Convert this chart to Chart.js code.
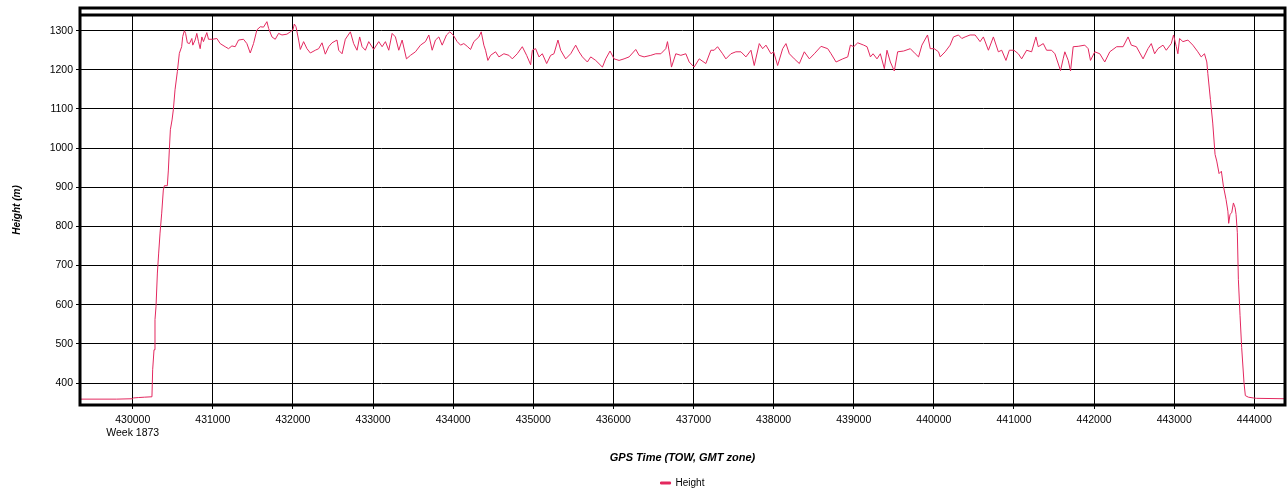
<!DOCTYPE html>
<html>
<head>
<meta charset="utf-8">
<title>Height vs GPS Time</title>
<script src="https://cdn.jsdelivr.net/npm/chart.js@4"></script>
<style>
  html, body { margin: 0; padding: 0; background: #fff; }
</style>
</head>
<body>
<canvas id="heightChart" width="1287" height="493"></canvas>
<script>
// GPS time of week (s) and height (m)
const gpsTimes = [
  429342, 429800, 430000, 430010, 430070, 430150, 430240, 430249, 430266, 430278,
  430291, 430308, 430324, 430341, 430362, 430382, 430395, 430432, 430445, 430457,
  430470, 430491, 430507, 430528, 430557, 430582, 430611, 430624, 430645, 430660,
  430682, 430708, 430738, 430750, 430779, 430800, 430821, 430842, 430863, 430883,
  430925, 430946, 430996, 431050, 431092, 431154, 431196, 431238, 431279, 431321,
  431383, 431425, 431467, 431508, 431550, 431592, 431633, 431675, 431696, 431738,
  431779, 431821, 431863, 431925, 431967, 432000, 432017, 432038, 432071, 432092,
  432133, 432175, 432217, 432279, 432321, 432363, 432404, 432446, 432488, 432550,
  432571, 432613, 432654, 432717, 432758, 432800, 432833, 432863, 432904, 432946,
  433008, 433071, 433113, 433154, 433196, 433238, 433279, 433321, 433363, 433417,
  433467, 433529, 433592, 433654, 433696, 433738, 433779, 433821, 433863, 433917,
  433958, 434000, 434050, 434092, 434133, 434175, 434217, 434258, 434321, 434350,
  434383, 434404, 434433, 434467, 434529, 434571, 434633, 434696, 434738, 434800,
  434863, 434917, 434967, 434988, 435029, 435071, 435113, 435167, 435217, 435258,
  435308, 435342, 435404, 435467, 435529, 435571, 435613, 435675, 435717, 435779,
  435863, 435904, 435958, 436008, 436071, 436133, 436196, 436279, 436321, 436383,
  436467, 436529, 436592, 436654, 436675, 436708, 436725, 436779, 436842, 436904,
  436946, 437008, 437071, 437154, 437217, 437258, 437300, 437363, 437404, 437467,
  437529, 437592, 437654, 437717, 437758, 437821, 437863, 437904, 437967, 438000,
  438050, 438113, 438154, 438196, 438258, 438321, 438383, 438446, 438508, 438592,
  438675, 438717, 438779, 438863, 438925, 438958, 439000, 439050, 439125, 439166,
  439208, 439241, 439290, 439332, 439382, 439415, 439457, 439506, 439548, 439623,
  439706, 439768, 439809, 439851, 439921, 439955, 440004, 440058, 440079, 440141,
  440203, 440245, 440307, 440349, 440390, 440452, 440515, 440577, 440618, 440681,
  440743, 440805, 440847, 440900, 440942, 441000, 441054, 441096, 441158, 441220,
  441274, 441303, 441366, 441407, 441469, 441511, 441581, 441614, 441635, 441677,
  441706, 441739, 441801, 441884, 441926, 441955, 442009, 442071, 442133, 442196,
  442282, 442362, 442424, 442465, 442528, 442611, 442673, 442714, 442756, 442797,
  442860, 442901, 442963, 442992, 443026, 443046, 443067, 443109, 443171, 443233,
  443295, 443337, 443378, 443407, 443420, 443452, 443481, 443510, 443531, 443560,
  443589, 443614, 443647, 443670, 443680, 443697, 443718, 443739, 443760, 443772,
  443788, 443801, 443822, 443842, 443871, 443888, 443925, 443987, 444028, 444383
];
const heights = [
  359, 359, 360, 362, 363, 364, 365, 434, 485, 562,
  596, 681, 732, 783, 834, 893, 904, 904, 944, 995,
  1047, 1072, 1098, 1149, 1195, 1242, 1259, 1285, 1300, 1293,
  1269, 1267, 1280, 1263, 1276, 1293, 1272, 1254, 1284, 1272,
  1295, 1278, 1278, 1280, 1267, 1259, 1254, 1261, 1259, 1276,
  1278, 1267, 1243, 1267, 1302, 1310, 1309, 1323, 1306, 1284,
  1278, 1293, 1289, 1291, 1297, 1302, 1317, 1310, 1276, 1252,
  1272, 1254, 1243, 1250, 1254, 1269, 1240, 1259, 1269, 1276,
  1250, 1241, 1278, 1297, 1267, 1250, 1284, 1259, 1250, 1272,
  1252, 1272, 1259, 1272, 1250, 1293, 1284, 1250, 1276, 1228,
  1237, 1246, 1263, 1272, 1289, 1250, 1276, 1284, 1263, 1289,
  1297, 1289, 1272, 1263, 1267, 1260, 1252, 1272, 1284, 1297,
  1263, 1250, 1224, 1237, 1246, 1233, 1241, 1237, 1228, 1241,
  1259, 1237, 1213, 1250, 1254, 1233, 1241, 1216, 1237, 1241,
  1276, 1250, 1228, 1241, 1263, 1246, 1233, 1220, 1233, 1224,
  1207, 1228, 1248, 1228, 1224, 1228, 1233, 1252, 1237, 1233,
  1237, 1241, 1241, 1254, 1272, 1233, 1207, 1241, 1237, 1241,
  1220, 1207, 1228, 1216, 1250, 1250, 1259, 1241, 1228, 1241,
  1246, 1246, 1233, 1250, 1211, 1267, 1254, 1263, 1241, 1246,
  1211, 1254, 1267, 1241, 1228, 1216, 1246, 1228, 1241, 1260,
  1254, 1241, 1220, 1228, 1233, 1263, 1259, 1269, 1263, 1259,
  1233, 1241, 1228, 1241, 1203, 1250, 1220, 1197, 1246, 1248,
  1254, 1241, 1233, 1263, 1289, 1254, 1254, 1246, 1233, 1246,
  1263, 1284, 1289, 1280, 1284, 1289, 1289, 1272, 1284, 1250,
  1284, 1246, 1250, 1224, 1250, 1250, 1241, 1228, 1250, 1246,
  1284, 1259, 1267, 1250, 1250, 1241, 1198, 1228, 1246, 1224,
  1197, 1259, 1260, 1263, 1254, 1224, 1246, 1241, 1220, 1246,
  1259, 1259, 1284, 1263, 1259, 1228, 1254, 1267, 1241, 1254,
  1263, 1250, 1267, 1289, 1259, 1241, 1280, 1272, 1276, 1263,
  1246, 1233, 1241, 1220, 1190, 1124, 1064, 984, 967, 935,
  941, 903, 869, 839, 808, 831, 835, 860, 848, 831,
  784, 665, 572, 491, 402, 368, 364, 362, 361, 360
];

const xTicks = [430000, 431000, 432000, 433000, 434000, 435000, 436000, 437000,
  438000, 439000, 440000, 441000, 442000, 443000, 444000];
const yTicks = [400, 500, 600, 700, 800, 900, 1000, 1100, 1200, 1300];
const weekLabel = 'Week 1873';

const FONT = "'Liberation Sans', Arial, sans-serif";
const LINE_COLOR = '#e3285f';

// thick frame round the plot, with the extra band on top
const framePlugin = {
  id: 'frame',
  afterDraw(chart) {
    const { ctx, chartArea: a } = chart;
    ctx.save();
    ctx.strokeStyle = '#000';
    ctx.lineWidth = 3;
    ctx.strokeRect(a.left, a.top - 7, a.right - a.left, a.bottom - a.top + 7);
    ctx.beginPath();
    ctx.moveTo(a.left, a.top);
    ctx.lineTo(a.right, a.top);
    ctx.stroke();
    ctx.restore();
  }
};

new Chart(document.getElementById('heightChart'), {
  type: 'line',
  data: {
    datasets: [{
      label: 'Height',
      data: gpsTimes.map((t, i) => ({ x: t, y: heights[i] })),
      borderColor: LINE_COLOR,
      backgroundColor: LINE_COLOR,
      borderWidth: 1,
      pointRadius: 0,
      tension: 0
    }]
  },
  options: {
    responsive: false,
    animation: false,
    layout: { padding: { top: 15, right: 2, bottom: -5, left: 0 } },
    plugins: {
      legend: {
        position: 'bottom',
        fullSize: false,
        labels: {
          boxWidth: 10,
          boxHeight: 2,
          padding: 8,
          color: '#000',
          font: { family: FONT, size: 10 }
        }
      },
      tooltip: { enabled: false }
    },
    scales: {
      x: {
        type: 'linear',
        min: 429342,
        max: 444383,
        afterBuildTicks: s => { s.ticks = xTicks.map(v => ({ value: v })); },
        afterFit: s => { s.height = 65; },
        grid: { color: '#000', lineWidth: 1, tickLength: 4, tickColor: '#000' },
        border: { display: false },
        ticks: {
          autoSkip: false,
          maxRotation: 0,
          padding: 5,
          color: '#000',
          font: { family: FONT, size: 10.5 },
          callback: v => v === xTicks[0] ? [String(v), weekLabel] : String(v)
        },
        title: {
          display: true,
          text: 'GPS Time (TOW, GMT zone)',
          color: '#000',
          font: { family: FONT, size: 11, weight: 'bold', style: 'italic' },
          padding: { top: 0, bottom: 5 }
        }
      },
      y: {
        type: 'linear',
        min: 344,
        max: 1340,
        afterBuildTicks: s => { s.ticks = yTicks.map(v => ({ value: v })); },
        afterFit: s => { s.width = 80; },
        grid: { color: '#000', lineWidth: 1, tickLength: 4, tickColor: '#000' },
        border: { display: false },
        ticks: {
          padding: 3,
          color: '#000',
          font: { family: FONT, size: 10.5 },
          callback: v => String(v)
        },
        title: {
          display: true,
          text: 'Height (m)',
          color: '#000',
          font: { family: FONT, size: 10, weight: 'bold', style: 'italic' },
          padding: { top: 11, bottom: 0 }
        }
      }
    }
  },
  plugins: [framePlugin]
});
</script>
</body>
</html>
